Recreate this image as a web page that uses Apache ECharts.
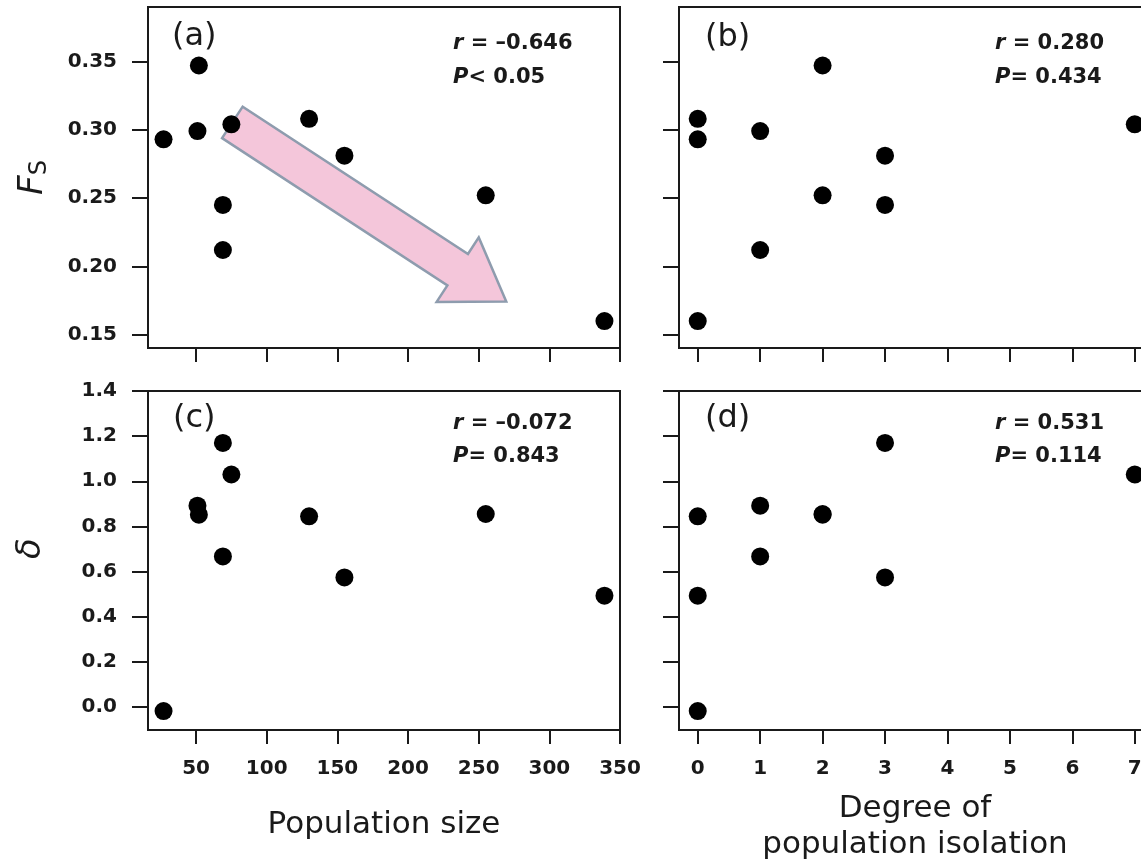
<!DOCTYPE html>
<html><head><meta charset="utf-8">
<script src="https://cdn.jsdelivr.net/npm/echarts@6/dist/echarts.min.js"></script>
<style>html,body{margin:0;padding:0;background:#fff;overflow:hidden}#c{width:1141px;height:860px}</style>
</head><body><div id="c"></div>
<script>
// ---- data ----
const popSize   = [27, 52, 51, 75, 69, 69, 130, 155, 255, 339];
const isolation = [0, 2, 1, 7, 3, 1, 0, 3, 2, 0];
const Fs        = [0.293, 0.347, 0.299, 0.304, 0.245, 0.212, 0.308, 0.281, 0.252, 0.160];
const delta     = [-0.018, 0.852, 0.892, 1.030, 1.170, 0.667, 0.845, 0.574, 0.855, 0.493];
const popTicks   = [50, 100, 150, 200, 250, 300, 350];
const isoTicks   = [0, 1, 2, 3, 4, 5, 6, 7];
const fsTicks    = [0.15, 0.20, 0.25, 0.30, 0.35];
const deltaTicks = [0.0, 0.2, 0.4, 0.6, 0.8, 1.0, 1.2, 1.4];
const panelLabels = ['(a)', '(b)', '(c)', '(d)'];
const rValues = ['–0.646', '0.280', '–0.072', '0.531'];
const pValues = ['< 0.05', '= 0.434', '= 0.843', '= 0.114'];

// ---- styling / layout ----
const FONT = 'DejaVu Sans';
const INK = '#1a1a1a';
const grids = [
  {left: 148, top: 7,   width: 472, height: 341},
  {left: 679, top: 7,   width: 472, height: 341},
  {left: 148, top: 391, width: 472, height: 339},
  {left: 679, top: 391, width: 472, height: 339}
];
const lineStyle = {color: INK, width: 2};
const tickLabel = {fontFamily: FONT, fontSize: 20, fontWeight: 'bold', color: INK};

function xAxis(gi, min, max, ticks, showLabels, name, nameGap) {
  return {
    type: 'value', gridIndex: gi, min: min, max: max,
    axisLine: {show: true, onZero: false, lineStyle: lineStyle},
    axisTick: {show: true, inside: false, length: 14, lineStyle: lineStyle, customValues: ticks},
    axisLabel: Object.assign({show: showLabels, margin: 29, customValues: ticks,
      formatter: v => String(Math.round(v))}, tickLabel),
    splitLine: {show: false},
    name: name || '', nameLocation: 'middle', nameGap: nameGap || 0,
    nameTextStyle: {fontFamily: FONT, fontSize: 31, color: INK, lineHeight: 36}
  };
}
function yAxis(gi, min, max, ticks, showLabels, digits, name, nameGap, nameStyle) {
  return {
    type: 'value', gridIndex: gi, min: min, max: max,
    axisLine: {show: true, onZero: false, lineStyle: lineStyle},
    axisTick: {show: true, inside: false, length: 16, lineStyle: lineStyle, customValues: ticks},
    axisLabel: Object.assign({show: showLabels, margin: 31, customValues: ticks,
      formatter: v => v.toFixed(digits)}, tickLabel),
    splitLine: {show: false},
    name: name || '', nameLocation: 'middle', nameGap: nameGap || 0, nameRotate: 90,
    nameTextStyle: nameStyle || {}
  };
}

const chart = echarts.init(document.getElementById('c'), null, {renderer: 'canvas'});

const option = {
  animation: false,
  backgroundColor: '#fff',
  grid: grids.map(g => Object.assign({show: true, borderColor: INK, borderWidth: 2,
    backgroundColor: 'transparent', containLabel: false, outerBoundsMode: 'none'}, g)),
  xAxis: [
    xAxis(0, 16, 350, popTicks, false),
    xAxis(1, -0.3, 7.26, isoTicks, false),
    xAxis(2, 16, 350, popTicks, true, 'Population size', 77),
    xAxis(3, -0.3, 7.26, isoTicks, true, 'Degree of\npopulation isolation', 61)
  ],
  yAxis: [
    yAxis(0, 0.1403, 0.3898, fsTicks, true, 2, '{f|F}{s|S}', 96, {
      rich: {
        f: {fontFamily: FONT, fontSize: 34, fontStyle: 'italic', color: INK},
        s: {fontFamily: FONT, fontSize: 24, color: INK, padding: [14, 0, 0, 0]}
      }
    }),
    yAxis(1, 0.1403, 0.3898, fsTicks, false, 2),
    yAxis(2, -0.102, 1.4, deltaTicks, true, 1, 'δ', 100, {
      fontFamily: FONT, fontSize: 34, fontStyle: 'italic', color: INK, padding: [0, 0, 0, 24]
    }),
    yAxis(3, -0.102, 1.4, deltaTicks, false, 1)
  ],
  series: [
    {type: 'scatter', xAxisIndex: 0, yAxisIndex: 0, data: popSize.map((x, i) => [x, Fs[i]])},
    {type: 'scatter', xAxisIndex: 1, yAxisIndex: 1, data: isolation.map((x, i) => [x, Fs[i]])},
    {type: 'scatter', xAxisIndex: 2, yAxisIndex: 2, data: popSize.map((x, i) => [x, delta[i]])},
    {type: 'scatter', xAxisIndex: 3, yAxisIndex: 3, data: isolation.map((x, i) => [x, delta[i]])}
  ].map(s => Object.assign(s, {symbol: 'circle', symbolSize: 18, z: 5, silent: true,
    itemStyle: {color: '#000', borderWidth: 0, opacity: 1}}))
};
chart.setOption(option);

// ---- annotations ----
const graphics = [];
// trend arrow in panel (a), anchored in data coordinates
const arrowTail = chart.convertToPixel({xAxisIndex: 0, yAxisIndex: 0}, [75.7, 0.3054]);
const arrowTip  = chart.convertToPixel({xAxisIndex: 0, yAxisIndex: 0}, [269.5, 0.1744]);
(function () {
  const dx = arrowTip[0] - arrowTail[0], dy = arrowTip[1] - arrowTail[1];
  const len = Math.hypot(dx, dy);
  const ux = dx / len, uy = dy / len, nx = -uy, ny = ux;
  const w = 18.8, h = 38.5, L = 58;
  const bx = arrowTip[0] - ux * L, by = arrowTip[1] - uy * L;
  const T = arrowTail;
  const pts = [
    [T[0] + nx * w, T[1] + ny * w],
    [bx + nx * w, by + ny * w],
    [bx + nx * h, by + ny * h],
    [arrowTip[0], arrowTip[1]],
    [bx - nx * h, by - ny * h],
    [bx - nx * w, by - ny * w],
    [T[0] - nx * w, T[1] - ny * w]
  ];
  graphics.push({type: 'polygon', z: 1, silent: true, shape: {points: pts},
    style: {fill: '#F4C6DA', stroke: '#8E9CAE', lineWidth: 2.5, lineJoin: 'miter'}});
})();

const labelPos = [[172, 37], [705, 38], [173, 419], [705, 419]];
const statPos  = [[453, 44, 78], [995, 44, 78], [453, 424, 457], [995, 424, 457]];
const statFont = {fontFamily: FONT, fontSize: 21, fontWeight: 'bold', fill: INK};
panelLabels.forEach((t, i) => {
  graphics.push({type: 'text', x: labelPos[i][0], y: labelPos[i][1], z: 10, silent: true,
    style: {text: t, fontFamily: FONT, fontSize: 32, fill: INK, align: 'left', verticalAlign: 'middle'}});
  graphics.push({type: 'text', x: statPos[i][0], y: statPos[i][1], z: 10, silent: true,
    style: Object.assign({text: '{i|r} = ' + rValues[i], align: 'left', verticalAlign: 'middle',
      rich: {i: Object.assign({fontStyle: 'italic'}, statFont)}}, statFont)});
  graphics.push({type: 'text', x: statPos[i][0], y: statPos[i][2], z: 10, silent: true,
    style: Object.assign({text: '{i|P}' + pValues[i], align: 'left', verticalAlign: 'middle',
      rich: {i: Object.assign({fontStyle: 'italic'}, statFont)}}, statFont)});
});
chart.setOption({graphic: graphics});
</script>
</body></html>
